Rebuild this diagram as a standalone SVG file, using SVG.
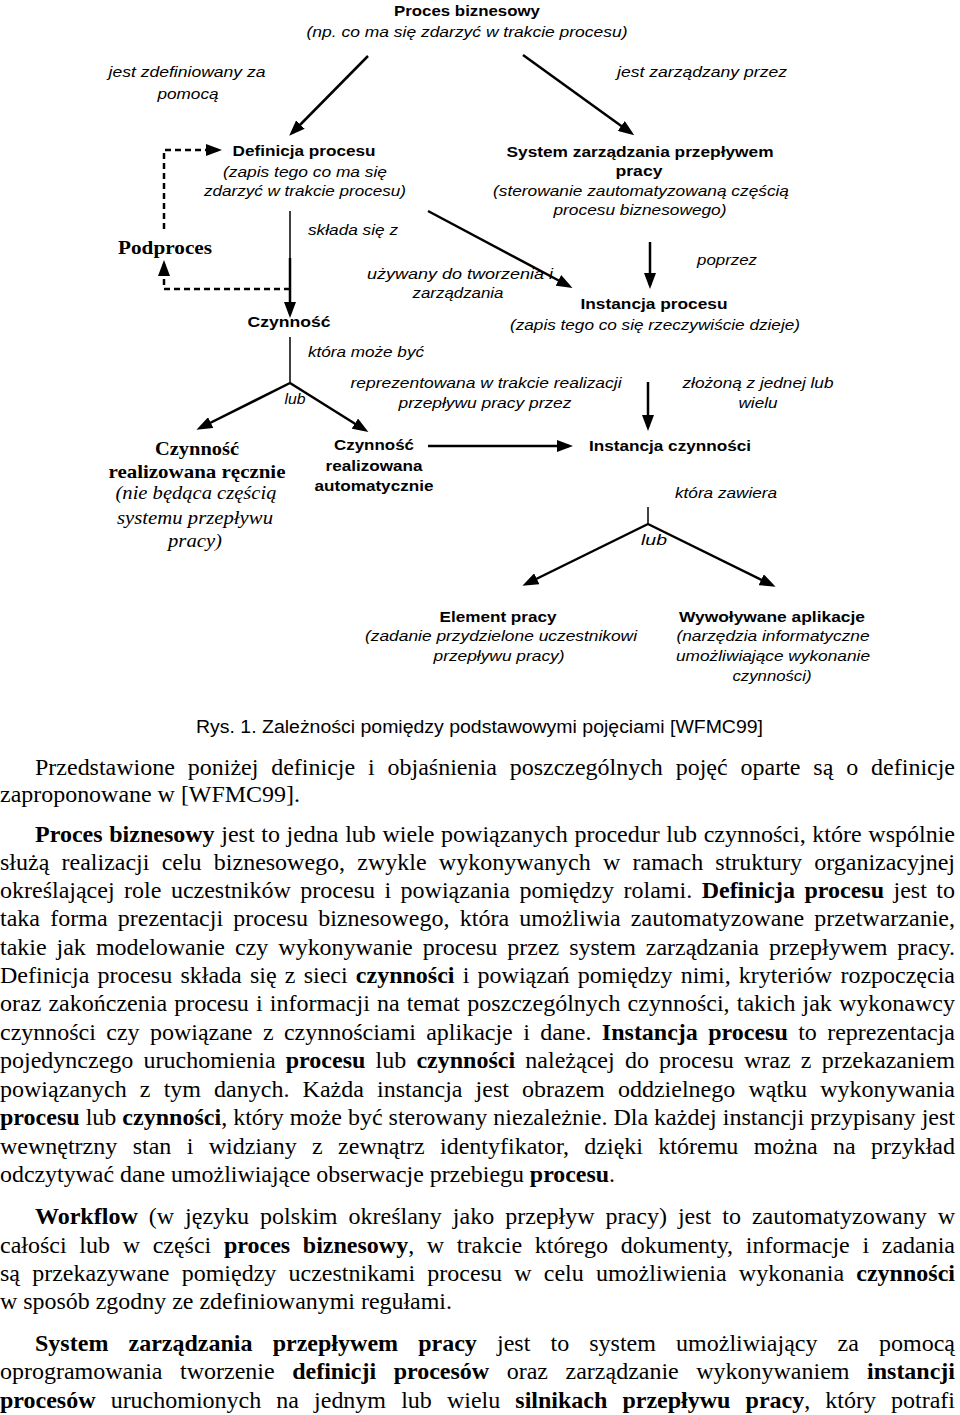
<svg xmlns="http://www.w3.org/2000/svg" width="960" height="1415" viewBox="0 0 960 1415">
<style>
.b{font-family:"Liberation Sans",Arial,sans-serif;font-weight:bold;font-size:15px;fill:#000}
.i{font-family:"Liberation Sans",Arial,sans-serif;font-style:italic;font-size:15px;fill:#000}
.sb{font-family:"Liberation Serif","Times New Roman",serif;font-weight:bold;font-size:19px;fill:#000}
.si{font-family:"Liberation Serif","Times New Roman",serif;font-style:italic;font-size:18px;fill:#000}
.cap{font-family:"Liberation Sans",Arial,sans-serif;font-size:18px;fill:#000}
.t{font-family:"Liberation Serif","Times New Roman",serif;font-size:24px;fill:#000}
.t tspan.k{font-weight:bold}
.ln{stroke:#000;stroke-width:2.5;fill:none}
.thin{stroke:#000;stroke-width:1.5;fill:none}
.ds{stroke:#000;stroke-width:2.5;fill:none;stroke-dasharray:6,4}
</style>
<defs>
<marker id="ah" markerUnits="userSpaceOnUse" markerWidth="16" markerHeight="12" refX="12" refY="6" orient="auto">
<path d="M0,0 L16,6 L0,12 z" fill="#000"/>
</marker>
</defs>

<g id="connectors">
<line class="ln" x1="368" y1="56" x2="292" y2="133" marker-end="url(#ah)"/>
<line class="ln" x1="523" y1="55" x2="631" y2="133" marker-end="url(#ah)"/>
<polyline class="ds" points="164,229 164,150 218,150" marker-end="url(#ah)"/>
<polyline class="ds" points="290,289 164,289 164,264" marker-end="url(#ah)"/>
<line class="thin" x1="290" y1="211" x2="290" y2="258"/>
<line class="ln" x1="290" y1="258" x2="290" y2="314" marker-end="url(#ah)"/>
<line class="ln" x1="428" y1="211" x2="569" y2="286" marker-end="url(#ah)"/>
<line class="ln" x1="650" y1="242" x2="650" y2="285" marker-end="url(#ah)"/>
<line class="thin" x1="290" y1="337" x2="290" y2="383"/>
<line class="ln" x1="290" y1="383" x2="200" y2="428" marker-end="url(#ah)"/>
<line class="ln" x1="290" y1="383" x2="365" y2="430" marker-end="url(#ah)"/>
<line class="ln" x1="648" y1="382" x2="648" y2="427" marker-end="url(#ah)"/>
<line class="ln" x1="428" y1="446" x2="569" y2="446" marker-end="url(#ah)"/>
<line class="thin" x1="648" y1="507" x2="648" y2="524"/>
<line class="ln" x1="648" y1="524" x2="526" y2="584" marker-end="url(#ah)"/>
<line class="ln" x1="648" y1="524" x2="772" y2="585" marker-end="url(#ah)"/>
</g>

<g id="labels">
<text class="i" x="187" y="77" text-anchor="middle" textLength="157" lengthAdjust="spacingAndGlyphs">jest zdefiniowany za</text>
<text class="i" x="188" y="99" text-anchor="middle" textLength="61" lengthAdjust="spacingAndGlyphs">pomocą</text>
<text class="i" x="702" y="77" text-anchor="middle" textLength="170" lengthAdjust="spacingAndGlyphs">jest zarządzany przez</text>
<text class="i" x="353" y="235" text-anchor="middle" textLength="90" lengthAdjust="spacingAndGlyphs">składa się z</text>
<text class="i" x="460" y="279" text-anchor="middle" textLength="186" lengthAdjust="spacingAndGlyphs">używany do tworzenia i</text>
<text class="i" x="458" y="298" text-anchor="middle" textLength="91" lengthAdjust="spacingAndGlyphs">zarządzania</text>
<text class="i" x="727" y="265" text-anchor="middle" textLength="60" lengthAdjust="spacingAndGlyphs">poprzez</text>
<text class="i" x="366" y="357" text-anchor="middle" textLength="116" lengthAdjust="spacingAndGlyphs">która może być</text>
<text class="i" x="295" y="404" text-anchor="middle" textLength="21" lengthAdjust="spacingAndGlyphs">lub</text>
<text class="i" x="486" y="388" text-anchor="middle" textLength="271" lengthAdjust="spacingAndGlyphs">reprezentowana w trakcie realizacji</text>
<text class="i" x="485" y="408" text-anchor="middle" textLength="173" lengthAdjust="spacingAndGlyphs">przepływu pracy przez</text>
<text class="i" x="758" y="388" text-anchor="middle" textLength="151" lengthAdjust="spacingAndGlyphs">złożoną z jednej lub</text>
<text class="i" x="758" y="408" text-anchor="middle" textLength="39" lengthAdjust="spacingAndGlyphs">wielu</text>
<text class="i" x="726" y="498" text-anchor="middle" textLength="102" lengthAdjust="spacingAndGlyphs">która zawiera</text>
<text class="i" x="654" y="545" text-anchor="middle" textLength="26" lengthAdjust="spacingAndGlyphs">lub</text>
</g>

<g id="proces-biznesowy">
<text class="b" x="467" y="16" text-anchor="middle" textLength="146" lengthAdjust="spacingAndGlyphs">Proces biznesowy</text>
<text class="i" x="467" y="37" text-anchor="middle" textLength="321" lengthAdjust="spacingAndGlyphs">(np. co ma się zdarzyć  w trakcie procesu)</text>
</g>

<g id="definicja-procesu">
<text class="b" x="304" y="156" text-anchor="middle" textLength="143" lengthAdjust="spacingAndGlyphs">Definicja procesu</text>
<text class="i" x="305" y="177" text-anchor="middle" textLength="164" lengthAdjust="spacingAndGlyphs">(zapis tego co ma się</text>
<text class="i" x="305" y="196" text-anchor="middle" textLength="202" lengthAdjust="spacingAndGlyphs">zdarzyć w trakcie procesu)</text>
</g>

<g id="system">
<text class="b" x="640" y="157" text-anchor="middle" textLength="267" lengthAdjust="spacingAndGlyphs">System zarządzania przepływem</text>
<text class="b" x="639" y="176" text-anchor="middle" textLength="47" lengthAdjust="spacingAndGlyphs">pracy</text>
<text class="i" x="641" y="196" text-anchor="middle" textLength="296" lengthAdjust="spacingAndGlyphs">(sterowanie zautomatyzowaną częścią</text>
<text class="i" x="640" y="215" text-anchor="middle" textLength="173" lengthAdjust="spacingAndGlyphs">procesu biznesowego)</text>
</g>

<g id="podproces">
<text class="sb" x="165" y="254" text-anchor="middle" textLength="94" lengthAdjust="spacingAndGlyphs">Podproces</text>
</g>

<g id="instancja-procesu">
<text class="b" x="654" y="309" text-anchor="middle" textLength="147" lengthAdjust="spacingAndGlyphs">Instancja procesu</text>
<text class="i" x="655" y="330" text-anchor="middle" textLength="290" lengthAdjust="spacingAndGlyphs">(zapis tego co się rzeczywiście dzieje)</text>
</g>

<g id="czynnosc">
<text class="b" x="289" y="327" text-anchor="middle" textLength="83" lengthAdjust="spacingAndGlyphs">Czynność</text>
</g>

<g id="czynnosc-reczna">
<text class="sb" x="197" y="455" text-anchor="middle" textLength="84" lengthAdjust="spacingAndGlyphs">Czynność</text>
<text class="sb" x="197" y="478" text-anchor="middle" textLength="177" lengthAdjust="spacingAndGlyphs">realizowana ręcznie</text>
<text class="si" x="196" y="499" text-anchor="middle" textLength="161" lengthAdjust="spacingAndGlyphs">(nie będąca częścią</text>
<text class="si" x="195" y="524" text-anchor="middle" textLength="156" lengthAdjust="spacingAndGlyphs">systemu przepływu</text>
<text class="si" x="195" y="547" text-anchor="middle" textLength="54" lengthAdjust="spacingAndGlyphs">pracy)</text>
</g>

<g id="czynnosc-automatyczna">
<text class="b" x="374" y="450" text-anchor="middle" textLength="80" lengthAdjust="spacingAndGlyphs">Czynność</text>
<text class="b" x="374" y="471" text-anchor="middle" textLength="97" lengthAdjust="spacingAndGlyphs">realizowana</text>
<text class="b" x="374" y="491" text-anchor="middle" textLength="119" lengthAdjust="spacingAndGlyphs">automatycznie</text>
</g>

<g id="instancja-czynnosci">
<text class="b" x="670" y="451" text-anchor="middle" textLength="162" lengthAdjust="spacingAndGlyphs">Instancja czynności</text>
</g>

<g id="element-pracy">
<text class="b" x="498" y="622" text-anchor="middle" textLength="117" lengthAdjust="spacingAndGlyphs">Element pracy</text>
<text class="i" x="501" y="641" text-anchor="middle" textLength="272" lengthAdjust="spacingAndGlyphs">(zadanie przydzielone uczestnikowi</text>
<text class="i" x="499" y="661" text-anchor="middle" textLength="131" lengthAdjust="spacingAndGlyphs">przepływu pracy)</text>
</g>

<g id="wywolywane-aplikacje">
<text class="b" x="772" y="622" text-anchor="middle" textLength="186" lengthAdjust="spacingAndGlyphs">Wywoływane aplikacje</text>
<text class="i" x="773" y="641" text-anchor="middle" textLength="193" lengthAdjust="spacingAndGlyphs">(narzędzia informatyczne</text>
<text class="i" x="773" y="661" text-anchor="middle" textLength="194" lengthAdjust="spacingAndGlyphs">umożliwiające wykonanie</text>
<text class="i" x="772" y="681" text-anchor="middle" textLength="79" lengthAdjust="spacingAndGlyphs">czynności)</text>
</g>

<g id="caption">
<text class="cap" x="196" y="733" textLength="567" lengthAdjust="spacingAndGlyphs">Rys. 1. Zależności pomiędzy podstawowymi pojęciami [WFMC99]</text>
</g>

<g id="body">
<text class="t" x="35" y="775" word-spacing="6.9" textLength="920" lengthAdjust="spacing">Przedstawione poniżej definicje i objaśnienia poszczególnych pojęć oparte są o definicje</text>
<text class="t" x="0" y="802" textLength="300" lengthAdjust="spacingAndGlyphs">zaproponowane w [WFMC99].</text>
<text class="t" x="35" y="842" word-spacing="0.6" textLength="920" lengthAdjust="spacing"><tspan class="k">Proces biznesowy</tspan> jest to jedna lub wiele powiązanych procedur lub czynności, które wspólnie</text>
<text class="t" x="0" y="870" word-spacing="6.2" textLength="955" lengthAdjust="spacing">służą realizacji celu biznesowego, zwykle wykonywanych w ramach struktury organizacyjnej</text>
<text class="t" x="0" y="898" word-spacing="3.5" textLength="955" lengthAdjust="spacing">określającej role uczestników procesu i powiązania pomiędzy rolami. <tspan class="k">Definicja procesu</tspan> jest to</text>
<text class="t" x="0" y="926" word-spacing="4.2" textLength="955" lengthAdjust="spacing">taka forma prezentacji procesu biznesowego, która umożliwia zautomatyzowane przetwarzanie,</text>
<text class="t" x="0" y="955" word-spacing="4.1" textLength="955" lengthAdjust="spacing">takie jak modelowanie czy wykonywanie procesu przez system zarządzania przepływem pracy.</text>
<text class="t" x="0" y="983" word-spacing="2.2" textLength="955" lengthAdjust="spacing">Definicja procesu składa się z sieci <tspan class="k">czynności</tspan> i powiązań pomiędzy nimi, kryteriów rozpoczęcia</text>
<text class="t" x="0" y="1011" word-spacing="1.1" textLength="955" lengthAdjust="spacing">oraz zakończenia procesu i informacji na temat poszczególnych czynności, takich jak wykonawcy</text>
<text class="t" x="0" y="1040" word-spacing="4.4" textLength="955" lengthAdjust="spacing">czynności czy powiązane z czynnościami aplikacje i dane. <tspan class="k">Instancja procesu</tspan> to reprezentacja</text>
<text class="t" x="0" y="1068" word-spacing="4.2" textLength="955" lengthAdjust="spacing">pojedynczego uruchomienia <tspan class="k">procesu</tspan> lub <tspan class="k">czynności</tspan> należącej do procesu wraz z przekazaniem</text>
<text class="t" x="0" y="1097" word-spacing="7.1" textLength="955" lengthAdjust="spacing">powiązanych z tym danych. Każda instancja jest obrazem oddzielnego wątku wykonywania</text>
<text class="t" x="0" y="1125" textLength="955" lengthAdjust="spacing"><tspan class="k">procesu</tspan> lub <tspan class="k">czynności</tspan>, który może być sterowany niezależnie. Dla każdej instancji przypisany jest</text>
<text class="t" x="0" y="1154" word-spacing="9.4" textLength="955" lengthAdjust="spacing">wewnętrzny stan i widziany z zewnątrz identyfikator, dzięki któremu można na przykład</text>
<text class="t" x="0" y="1182" textLength="615" lengthAdjust="spacingAndGlyphs">odczytywać dane umożliwiające obserwacje przebiegu <tspan class="k">procesu</tspan>.</text>
<text class="t" x="35" y="1224" word-spacing="5" textLength="920" lengthAdjust="spacing"><tspan class="k">Workflow</tspan> (w języku polskim określany jako przepływ pracy) jest to zautomatyzowany w</text>
<text class="t" x="0" y="1253" word-spacing="6.7" textLength="955" lengthAdjust="spacing">całości lub w części <tspan class="k">proces biznesowy</tspan>, w trakcie którego dokumenty, informacje i zadania</text>
<text class="t" x="0" y="1281" word-spacing="6.2" textLength="955" lengthAdjust="spacing">są przekazywane pomiędzy uczestnikami procesu w celu umożliwienia wykonania <tspan class="k">czynności</tspan></text>
<text class="t" x="0" y="1309" textLength="452" lengthAdjust="spacingAndGlyphs">w sposób zgodny ze zdefiniowanymi regułami.</text>
<text class="t" x="35" y="1351" word-spacing="14.1" textLength="920" lengthAdjust="spacing"><tspan class="k">System zarządzania przepływem pracy</tspan> jest to system umożliwiający za pomocą</text>
<text class="t" x="0" y="1379" word-spacing="11.6" textLength="955" lengthAdjust="spacing">oprogramowania tworzenie <tspan class="k">definicji procesów</tspan> oraz zarządzanie wykonywaniem <tspan class="k">instancji</tspan></text>
<text class="t" x="0" y="1408" word-spacing="9.1" textLength="955" lengthAdjust="spacing"><tspan class="k">procesów</tspan> uruchomionych na jednym lub wielu <tspan class="k">silnikach przepływu pracy</tspan>, który potrafi</text>
</g>
</svg>
